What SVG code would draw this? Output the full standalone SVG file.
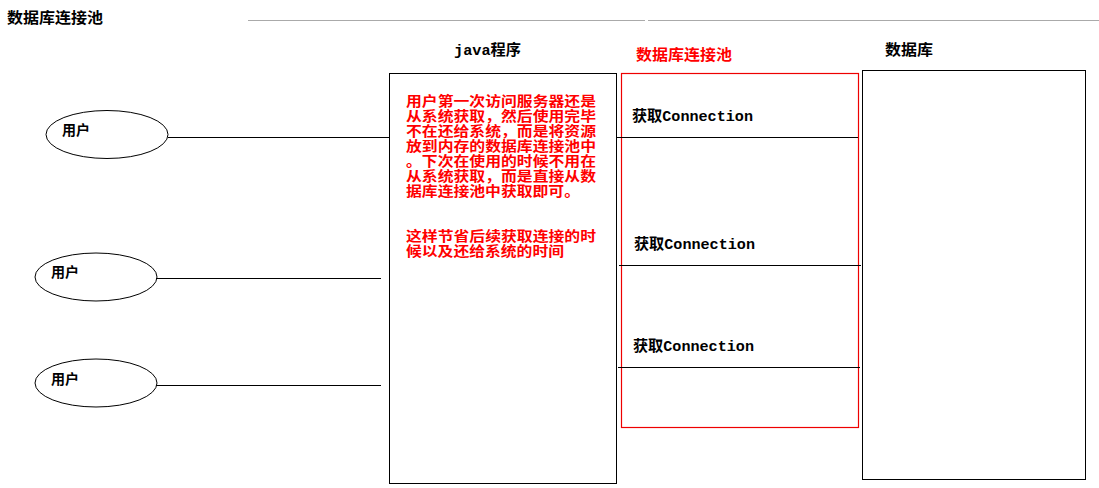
<svg xmlns="http://www.w3.org/2000/svg" width="1099" height="488" viewBox="0 0 1099 488">
<style>
.bx{fill:#fff;stroke:#000;stroke-width:1}
.rbx{fill:none;stroke:#e00;stroke-width:1.2}
.ln{stroke:#000;stroke-width:1;fill:none}
.t{font-family:"Noto Sans CJK SC","Liberation Sans",sans-serif;font-weight:bold;fill:#000}
.m{font-family:"Liberation Mono","Noto Sans CJK SC",monospace;font-weight:bold;fill:#000}
.r{font-family:"Noto Sans CJK SC","Liberation Sans",sans-serif;font-weight:bold;fill:#f00;font-size:13.5px}
</style>
<rect width="1099" height="488" fill="#fff"/>
<g id="title">
<text class="t" x="7" y="23" font-size="15" textLength="96" lengthAdjust="spacingAndGlyphs">数据库连接池</text>
<line x1="248" y1="20.5" x2="645" y2="20.5" stroke="#aaa" stroke-width="1"/>
<line x1="648" y1="20.5" x2="1099" y2="20.5" stroke="#aaa" stroke-width="1"/>
</g>
<g id="java">
<text class="m" x="454" y="55" font-size="15" textLength="67" lengthAdjust="spacingAndGlyphs">java程序</text>
<rect class="bx" x="389.5" y="73.5" width="227" height="410"/>
<text class="r" x="406" y="106" textLength="190" lengthAdjust="spacingAndGlyphs">用户第一次访问服务器还是</text>
<text class="r" x="406" y="121" textLength="190" lengthAdjust="spacingAndGlyphs">从系统获取，然后使用完毕</text>
<text class="r" x="406" y="136" textLength="190" lengthAdjust="spacingAndGlyphs">不在还给系统，而是将资源</text>
<text class="r" x="406" y="151" textLength="190" lengthAdjust="spacingAndGlyphs">放到内存的数据库连接池中</text>
<text class="r" x="406" y="166" textLength="190" lengthAdjust="spacingAndGlyphs">。下次在使用的时候不用在</text>
<text class="r" x="406" y="181" textLength="190" lengthAdjust="spacingAndGlyphs">从系统获取，而是直接从数</text>
<text class="r" x="406" y="196" textLength="174" lengthAdjust="spacingAndGlyphs">据库连接池中获取即可。</text>
<text class="r" x="406" y="241" textLength="190" lengthAdjust="spacingAndGlyphs">这样节省后续获取连接的时</text>
<text class="r" x="406" y="256" textLength="158" lengthAdjust="spacingAndGlyphs">候以及还给系统的时间</text>
</g>
<g id="pool">
<text class="t" x="636" y="60" font-size="15" style="fill:#f00" textLength="96" lengthAdjust="spacingAndGlyphs">数据库连接池</text>
<rect class="rbx" x="621.5" y="73.5" width="237" height="354"/>
<text class="m" x="632" y="121" font-size="15" textLength="121" lengthAdjust="spacingAndGlyphs">获取Connection</text>
<text class="m" x="634" y="249" font-size="15" textLength="121" lengthAdjust="spacingAndGlyphs">获取Connection</text>
<text class="m" x="633" y="351" font-size="15" textLength="121" lengthAdjust="spacingAndGlyphs">获取Connection</text>
</g>
<g id="db">
<text class="t" x="885" y="55" font-size="15" textLength="48" lengthAdjust="spacingAndGlyphs">数据库</text>
<rect class="bx" x="862.5" y="70.5" width="223" height="409"/>
</g>
<g id="user1">
<ellipse class="bx" cx="107" cy="134.5" rx="61" ry="24"/>
<text class="t" x="62" y="135" font-size="14">用户</text>
</g>
<g id="user2">
<ellipse class="bx" cx="96" cy="277" rx="61" ry="24"/>
<text class="t" x="51" y="277" font-size="14">用户</text>
</g>
<g id="user3">
<ellipse class="bx" cx="96" cy="383" rx="61" ry="24"/>
<text class="t" x="51" y="384" font-size="14">用户</text>
</g>
<g id="connectors">
<line class="ln" x1="168" y1="137.5" x2="389" y2="137.5"/>
<line class="ln" x1="156" y1="278.5" x2="381" y2="278.5"/>
<line class="ln" x1="156" y1="385.5" x2="381" y2="385.5"/>
<line class="ln" x1="616" y1="137.5" x2="858" y2="137.5"/>
<line class="ln" x1="619" y1="265.5" x2="861" y2="265.5"/>
<line class="ln" x1="618" y1="367.5" x2="860" y2="367.5"/>
</g>
</svg>
